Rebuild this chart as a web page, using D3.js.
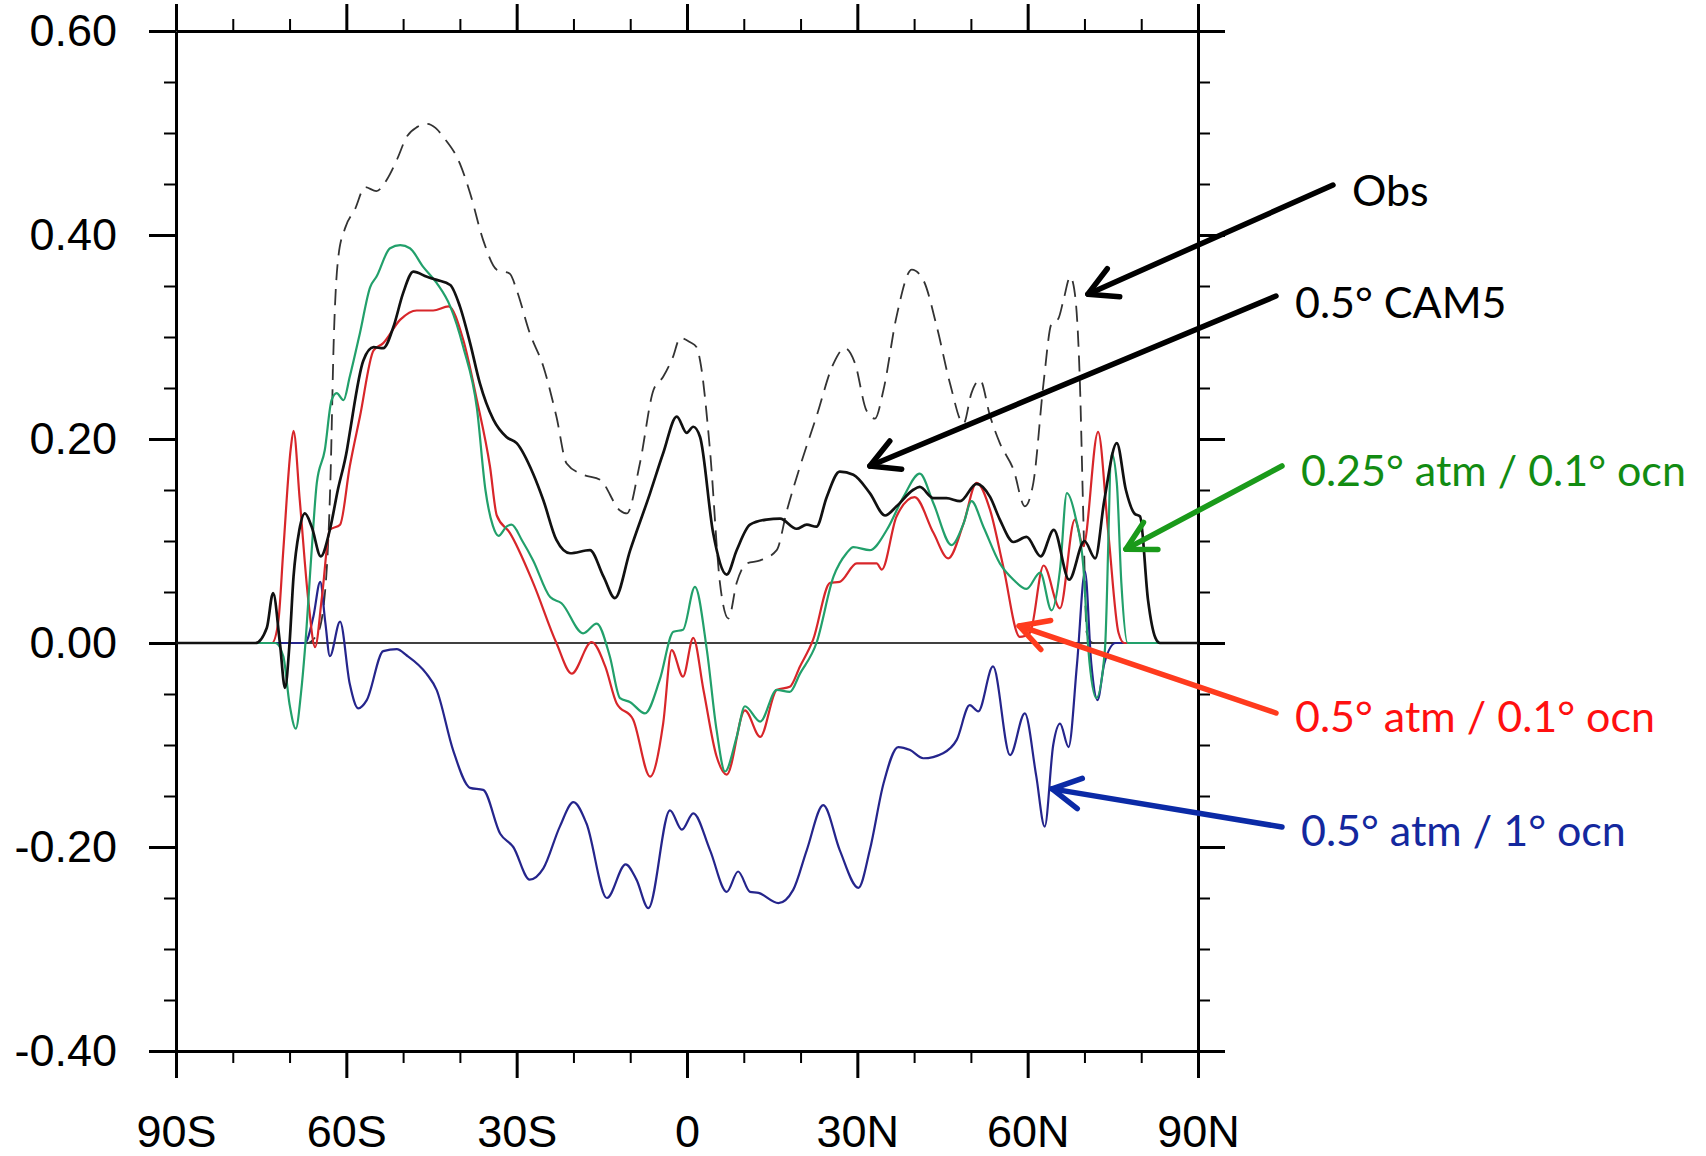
<!DOCTYPE html>
<html>
<head>
<meta charset="utf-8">
<script src="https://cdn.jsdelivr.net/npm/d3@7"></script>
<style>
  body { margin: 0; background: #fff; }
</style>
</head>
<body>
<div id="chart"></div>
<script>
// tick values and labels
var yTicks = [-0.4, -0.2, 0, 0.2, 0.4, 0.6];
var xTicks = [-90, -60, -30, 0, 30, 60, 90];
var xTickLabels = ["90S", "60S", "30S", "0", "30N", "60N", "90N"];

// series, [latitude, value]
var obs = [[-90,0],[-67,0],[-65,0.01],[-63.6,0.06],[-62.8,0.16],[-62.2,0.3],[-61.4,0.379],[-60.2,0.407],[-58.5,0.425],
  [-56.7,0.447],[-54.7,0.443],[-52.9,0.454],[-51,0.475],[-49.4,0.496],[-47.5,0.506],[-45.8,0.509],[-44.3,0.505],
  [-42.9,0.496],[-40,0.47],[-38.2,0.441],[-35.9,0.395],[-33.5,0.366],[-31.2,0.362],[-30,0.346],[-27.7,0.304],
  [-25.3,0.271],[-23,0.222],[-21.2,0.176],[-18.3,0.165],[-15.3,0.16],[-11.8,0.13],[-10.6,0.127],[-8.3,0.176],
  [-5.9,0.248],[-4.2,0.261],[-2.5,0.28],[-1.2,0.299],[0.5,0.295],[1.7,0.29],[2.3,0.277],[4.05,0.189],[5.8,0.059],
  [7.3,0.024],[8.75,0.059],[10.5,0.078],[12.9,0.081],[15.8,0.091],[17.6,0.13],[19.9,0.173],[22.8,0.222],
  [25.8,0.274],[27.8,0.289],[29.6,0.274],[31.6,0.228],[33.1,0.22],[34.6,0.248],[36.9,0.32],[39.6,0.366],
  [41.6,0.356],[44,0.31],[46.3,0.255],[48.7,0.215],[50.1,0.245],[51.6,0.258],[53.4,0.222],[55.1,0.196],
  [57.5,0.17],[59.5,0.134],[61,0.157],[62.8,0.255],[64.2,0.313],[65.4,0.318],[66.3,0.336],[67.5,0.359],
  [68.3,0.343],[69.2,0.255],[69.8,0.124],[70.4,0.01],[71.5,0],[90,0]];

var cam5 = [[-90,0],[-76,0],[-74,0.015],[-72.9,0.049],[-71.7,0],[-70.8,-0.044],[-70,0],[-69.3,0.065],[-68.3,0.11],
  [-67.3,0.127],[-66.1,0.114],[-64.5,0.085],[-62.9,0.111],[-61.5,0.15],[-59.9,0.189],[-59.4,0.206],[-57,0.277],
  [-55.2,0.29],[-53.5,0.289],[-51.7,0.31],[-50,0.343],[-48.2,0.364],[-45.8,0.359],[-44.1,0.356],[-41.7,0.351],
  [-40,0.33],[-38.2,0.294],[-36.5,0.255],[-34.1,0.219],[-31.8,0.202],[-30,0.196],[-27.1,0.166],[-25.3,0.14],
  [-23,0.101],[-20.6,0.088],[-17.1,0.091],[-14.7,0.065],[-12.7,0.044],[-10,0.091],[-6.5,0.147],[-4.2,0.186],
  [-1.8,0.222],[-0.05,0.206],[1.1,0.212],[2.3,0.202],[4.6,0.108],[7,0.067],[8.75,0.091],[11.1,0.116],[14,0.121],
  [16.4,0.122],[19.3,0.112],[21.1,0.116],[22.8,0.114],[24.6,0.143],[26.9,0.168],[29.3,0.165],[32.2,0.147],
  [34.9,0.125],[36.9,0.134],[39.8,0.15],[41,0.153],[43.4,0.142],[45.7,0.142],[48.1,0.139],[51,0.156],[53.4,0.143],
  [55.1,0.121],[57.5,0.099],[59.8,0.104],[62.3,0.085],[64.6,0.111],[67.3,0.062],[70,0.1],[71.9,0.083],[73.5,0.14],
  [75.7,0.196],[77.3,0.15],[78.8,0.127],[79.8,0.124],[81.2,0.042],[82.5,0.005],[83.3,0],[90,0]];

var atm025ocn01 = [[-90,0],[-72.5,0],[-71.1,-0.013],[-70,-0.06],[-68.9,-0.084],[-68,-0.05],[-67.3,-0.007],
  [-66.1,0.091],[-65.2,0.157],[-63.8,0.189],[-62.6,0.238],[-61.7,0.245],[-60.5,0.238],[-59.4,0.261],[-57.6,0.304],
  [-55.8,0.349],[-54.7,0.359],[-52.3,0.387],[-50.5,0.39],[-48.8,0.387],[-46.5,0.369],[-44.1,0.353],[-41.7,0.33],
  [-39.4,0.29],[-37,0.23],[-35.5,0.15],[-34.2,0.115],[-33.2,0.105],[-31.8,0.114],[-30.9,0.116],[-29,0.1],
  [-27.1,0.081],[-24.1,0.045],[-22.1,0.039],[-18.3,0.0095],[-15.9,0.019],[-13.6,-0.013],[-11.8,-0.054],
  [-10,-0.058],[-7.4,-0.069],[-4.8,-0.036],[-2.4,0.011],[-0.7,0.013],[1.4,0.055],[3.5,-0.007],[5.2,-0.085],
  [6.7,-0.126],[8.75,-0.092],[10.2,-0.062],[12.9,-0.077],[15.8,-0.046],[18.1,-0.048],[19.9,-0.03],[22.8,0],
  [25.8,0.065],[28.1,0.088],[29.3,0.094],[32.2,0.091],[35.2,0.111],[38.1,0.143],[41,0.166],[43.4,0.137],
  [46.6,0.096],[48.7,0.117],[50.1,0.139],[52.2,0.114],[55.1,0.078],[57.5,0.062],[59.8,0.053],[62.2,0.069],
  [64.2,0.032],[65.7,0.072],[66.9,0.147],[68.4,0.124],[69.8,0.075],[70.7,-0.007],[72.1,-0.054],[73.6,-0.007],
  [74.8,0.186],[75.7,0.157],[76.5,0.059],[77.6,0],[90,0]];

var atm05ocn01 = [[-90,0],[-73.1,0],[-72,0.02],[-71.1,0.091],[-69.8,0.19],[-69.3,0.208],[-68.2,0.14],[-66.7,0.042],
  [-65.5,-0.004],[-64.3,0.045],[-62.9,0.111],[-61.1,0.116],[-59.4,0.173],[-57.6,0.222],[-55.2,0.287],[-53.5,0.294],
  [-50.5,0.317],[-47.6,0.326],[-44.7,0.326],[-42,0.33],[-39.4,0.297],[-37,0.238],[-34.7,0.173],[-33.5,0.125],
  [-31.2,0.108],[-27.1,0.059],[-23,0],[-20.3,-0.03],[-16.8,0.001],[-14.4,-0.023],[-12.4,-0.059],[-9.5,-0.075],
  [-6.5,-0.131],[-4.2,-0.079],[-2.7,-0.007],[-0.7,-0.033],[1.1,0.005],[2.9,-0.046],[5.2,-0.111],[7,-0.129],
  [10.2,-0.066],[12.9,-0.092],[15.8,-0.046],[18.1,-0.043],[19.9,-0.023],[22.2,0.003],[25.2,0.059],[26.9,0.06],
  [29.9,0.078],[33.4,0.078],[34.3,0.072],[36.9,0.124],[40.1,0.143],[43.4,0.108],[46,0.083],[48.7,0.117],
  [51,0.157],[53.4,0.13],[55.7,0.075],[58.6,0.006],[60.4,0.01],[62.8,0.076],[65.7,0.034],[68.3,0.121],
  [69.8,0.095],[72.4,0.207],[74.2,0.108],[76,0.01],[77,0],[90,0]];

var atm05ocn1 = [[-90,0],[-67.3,0],[-65.8,0.026],[-64.6,0.06],[-63.7,0.02],[-62.9,-0.013],[-61.1,0.021],
  [-59.4,-0.04],[-57.9,-0.064],[-56.4,-0.056],[-53.5,-0.008],[-51.1,-0.006],[-49.4,-0.012],[-45.9,-0.03],
  [-44.1,-0.046],[-41.2,-0.105],[-38.2,-0.142],[-35.9,-0.144],[-32.9,-0.187],[-30.6,-0.2],[-27.7,-0.232],
  [-25.3,-0.221],[-22.4,-0.18],[-20,-0.156],[-17.7,-0.177],[-14.1,-0.25],[-10.8,-0.217],[-8.9,-0.232],
  [-6.8,-0.26],[-3,-0.164],[-0.9,-0.183],[1.1,-0.167],[4.05,-0.203],[7,-0.244],[9,-0.224],[11.1,-0.244],
  [12.6,-0.245],[16.1,-0.255],[18.7,-0.242],[21.1,-0.203],[24,-0.159],[26.9,-0.203],[30.2,-0.24],[32.2,-0.203],
  [34.6,-0.138],[37.2,-0.102],[39.3,-0.105],[41.6,-0.113],[45.1,-0.108],[47.5,-0.095],[49.8,-0.061],
  [51.3,-0.067],[53.9,-0.023],[56.9,-0.11],[59.5,-0.069],[61.5,-0.13],[63,-0.18],[64.5,-0.1],[65.7,-0.079],
  [67.2,-0.102],[68.7,-0.02],[70.1,0.07],[71.2,-0.02],[72.3,-0.056],[73.5,-0.02],[75.5,0],[90,0]];

var series = [
  {data: obs, color: "#333", width: 1.8, dash: "16,9"},
  {data: atm05ocn1, color: "#25258c", width: 2.2, dash: null},
  {data: atm05ocn01, color: "#d8262a", width: 2.2, dash: null},
  {data: atm025ocn01, color: "#22a06b", width: 2.2, dash: null},
  {data: cam5, color: "#111", width: 2.7, dash: null}
];

// labels with arrows: target in data units, tail and text in pixels
var notes = [
  {text: "Obs", color: "#000", arrow: "#000", lat: 70.6, val: 0.342, tail: [1333, 185], pos: [1352, 206]},
  {text: "0.5\u00b0 CAM5", color: "#000", arrow: "#000", lat: 32.2, val: 0.1735, tail: [1276, 296], pos: [1295, 318]},
  {text: "0.25\u00b0 atm / 0.1\u00b0 ocn", color: "#128c12", arrow: "#1a9a1a", lat: 77.3, val: 0.092, tail: [1282, 466], pos: [1301, 486]},
  {text: "0.5\u00b0 atm / 0.1\u00b0 ocn", color: "#ff1010", arrow: "#ff3b1e", lat: 58.5, val: 0.0167, tail: [1276, 713], pos: [1295, 732]},
  {text: "0.5\u00b0 atm / 1\u00b0 ocn", color: "#14289e", arrow: "#0b2aa6", lat: 64.3, val: -0.143, tail: [1282, 827], pos: [1301, 846]}
];

var width = 1706, height = 1156;
var plot = {left: 176, right: 1198, top: 31, bottom: 1051};

var svg = d3.select("#chart").append("svg")
  .attr("width", width)
  .attr("height", height);

svg.append("rect").attr("width", width).attr("height", height).attr("fill", "#fff");

var x = d3.scaleLinear().domain([-90, 90]).range([plot.left, plot.right]);
var y = d3.scaleLinear().domain([-0.4, 0.6]).range([plot.bottom, plot.top]);

var minorX = d3.range(-90, 91, 10).filter(function(d) { return d % 30 != 0; });
var minorY = d3.range(-8, 13).filter(function(i) { return i % 4 != 0; }).map(function(i) { return i / 20; });

function addAxis(axis, transform, tickWidth, showDomain) {
  var g = svg.append("g")
    .attr("transform", transform)
    .call(axis);
  g.selectAll(".tick line").attr("stroke", "#000").attr("stroke-width", tickWidth);
  if (showDomain) g.select(".domain").attr("stroke", "#000").attr("stroke-width", 3);
  else g.select(".domain").remove();
  g.selectAll("text")
    .attr("fill", "#000")
    .style("font-family", "'Liberation Sans', Arial, Helvetica, sans-serif")
    .style("font-size", "45px");
  return g;
}

// minor ticks
addAxis(d3.axisLeft(y).tickValues(minorY).tickSize(12).tickFormat(""), "translate(" + plot.left + ",0)", 2, false);
addAxis(d3.axisRight(y).tickValues(minorY).tickSize(12).tickFormat(""), "translate(" + plot.right + ",0)", 2, false);
addAxis(d3.axisBottom(x).tickValues(minorX).tickSize(12).tickFormat(""), "translate(0," + plot.bottom + ")", 2, false);
addAxis(d3.axisTop(x).tickValues(minorX).tickSize(12).tickFormat(""), "translate(0," + plot.top + ")", 2, false);

// major ticks and frame
addAxis(d3.axisLeft(y).tickValues(yTicks).tickSize(27).tickSizeOuter(0).tickPadding(32)
    .tickFormat(function(d) { return d.toFixed(2); }),
  "translate(" + plot.left + ",0)", 3, true);
addAxis(d3.axisRight(y).tickValues(yTicks).tickSize(27).tickSizeOuter(0).tickFormat(""),
  "translate(" + plot.right + ",0)", 3, true);
addAxis(d3.axisBottom(x).tickValues(xTicks).tickSize(27).tickSizeOuter(0).tickPadding(37)
    .tickFormat(function(d, i) { return xTickLabels[i]; }),
  "translate(0," + plot.bottom + ")", 3, true);
addAxis(d3.axisTop(x).tickValues(xTicks).tickSize(27).tickSizeOuter(0).tickFormat(""),
  "translate(0," + plot.top + ")", 3, true);

// zero line
svg.append("line")
  .attr("x1", x(-90)).attr("x2", x(90))
  .attr("y1", y(0)).attr("y2", y(0))
  .attr("stroke", "#000")
  .attr("stroke-width", 1.6);

var line = d3.line()
  .x(function(d) { return x(d[0]); })
  .y(function(d) { return y(d[1]); })
  .curve(d3.curveMonotoneX);

series.forEach(function(s) {
  svg.append("path")
    .datum(s.data)
    .attr("fill", "none")
    .attr("stroke", s.color)
    .attr("stroke-width", s.width)
    .attr("stroke-dasharray", s.dash)
    .attr("stroke-linejoin", "round")
    .attr("d", line);
});

// annotations
notes.forEach(function(n) {
  var hx = x(n.lat), hy = y(n.val);
  var ang = Math.atan2(n.tail[1] - hy, n.tail[0] - hx);
  var len = 32, spread = 0.5;
  var g = svg.append("g")
    .attr("stroke", n.arrow)
    .attr("stroke-width", 5.5)
    .attr("stroke-linecap", "round")
    .attr("stroke-linejoin", "round")
    .attr("fill", "none");
  g.append("line")
    .attr("x1", n.tail[0]).attr("y1", n.tail[1])
    .attr("x2", hx).attr("y2", hy);
  g.append("path")
    .attr("d", "M" + (hx + len * Math.cos(ang - spread)) + "," + (hy + len * Math.sin(ang - spread)) +
      "L" + hx + "," + hy +
      "L" + (hx + len * Math.cos(ang + spread)) + "," + (hy + len * Math.sin(ang + spread)));
  svg.append("text")
    .attr("x", n.pos[0])
    .attr("y", n.pos[1])
    .attr("fill", n.color)
    .style("font-family", "Lato, 'Open Sans', sans-serif")
    .style("font-size", "43px")
    .text(n.text);
});
</script>
</body>
</html>
